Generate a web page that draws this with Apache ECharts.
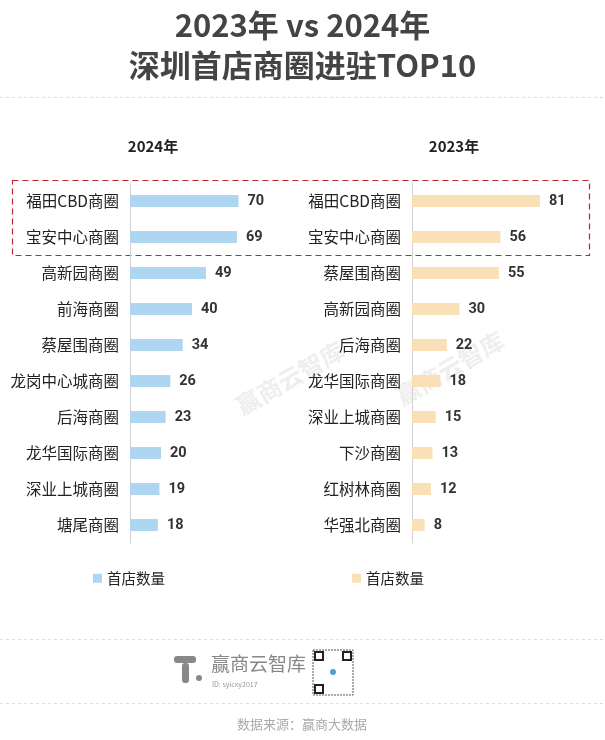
<!DOCTYPE html>
<html><head><meta charset="utf-8">
<script src="https://cdn.jsdelivr.net/npm/echarts@6/dist/echarts.min.js"></script>
<style>html,body{margin:0;padding:0;background:#fff}#c{width:605px;height:740px}</style>
</head><body><div id="c"></div>
<script>
const cats2024 = ['福田CBD商圈','宝安中心商圈','高新园商圈','前海商圈','蔡屋围商圈','龙岗中心城商圈','后海商圈','龙华国际商圈','深业上城商圈','塘尾商圈'];
const vals2024 = [70,69,49,40,34,26,23,20,19,18];
const cats2023 = ['福田CBD商圈','宝安中心商圈','蔡屋围商圈','高新园商圈','后海商圈','龙华国际商圈','深业上城商圈','下沙商圈','红树林商圈','华强北商圈'];
const vals2023 = [81,56,55,30,22,18,15,13,12,8];
const seriesName = '首店数量';
const font = '"Noto Sans CJK SC","Noto Sans",sans-serif';

const chart = echarts.init(document.getElementById('c'));
const yAxisCommon = {
  type:'category', inverse:true,
  axisLine:{show:true,lineStyle:{color:'#d0d0d0'}},
  axisTick:{show:false},
  axisLabel:{fontSize:15.5,color:'#222',fontFamily:font,margin:11}
};
const xAxisCommon = {type:'value',min:0,max:100,show:false,splitLine:{show:false}};
const labelCommon = {show:true,position:'right',distance:9,fontSize:14.5,color:'#333',fontWeight:'bold',fontFamily:'Roboto, sans-serif'};

chart.setOption({
  backgroundColor:'#fff',
  animation:false,
  title:[
    {text:'2023年 vs 2024年\n深圳首店商圈进驻TOP10',left:'center',top:0,
     textStyle:{fontSize:31,fontWeight:'bold',color:'#444',fontFamily:font,lineHeight:40}},
    {text:'2024年',left:148,top:134,textAlign:'center',textStyle:{fontSize:15,fontWeight:'bold',color:'#222',fontFamily:font}},
    {text:'2023年',left:449,top:134,textAlign:'center',textStyle:{fontSize:15,fontWeight:'bold',color:'#222',fontFamily:font}}
  ],
  grid:[
    {left:130,top:183,width:155,height:360},
    {left:412,top:183,width:158,height:360}
  ],
  xAxis:[Object.assign({gridIndex:0},xAxisCommon),Object.assign({gridIndex:1},xAxisCommon)],
  yAxis:[
    Object.assign({gridIndex:0,data:cats2024},yAxisCommon),
    Object.assign({gridIndex:1,data:cats2023},yAxisCommon)
  ],
  legend:[
    {data:[seriesName],left:88,top:566,itemWidth:9,itemHeight:9,icon:'rect',itemGap:6,
     textStyle:{fontSize:14.5,color:'#222',fontFamily:font}},
    {data:[{name:seriesName+' '}],left:347,top:566,itemWidth:9,itemHeight:9,icon:'rect',
     textStyle:{fontSize:14.5,color:'#222',fontFamily:font},formatter:()=>seriesName}
  ],
  series:[
    {name:seriesName,type:'bar',xAxisIndex:0,yAxisIndex:0,data:vals2024,barWidth:12,
     itemStyle:{color:'#aed6f1'},label:labelCommon},
    {name:seriesName+' ',type:'bar',xAxisIndex:1,yAxisIndex:1,data:vals2023,barWidth:12,
     itemStyle:{color:'#fae0b6'},label:labelCommon}
  ],
  graphic:[
    {type:'line',shape:{x1:0,y1:97.5,x2:605,y2:97.5},style:{stroke:'#ddd',lineDash:[3,3],lineWidth:1}},
    {type:'rect',shape:{x:12.5,y:180.5,width:577,height:75},style:{fill:'none',stroke:'#c4252b',lineDash:[6,4],lineWidth:1.2}},
    {type:'text',x:290,y:378,rotation:Math.PI/6,style:{text:'赢商云智库',fontSize:24,fontWeight:'bold',fill:'rgba(200,200,200,0.3)',align:'center',verticalAlign:'middle',fontFamily:font}},
    {type:'text',x:450,y:368,rotation:Math.PI/6,style:{text:'赢商云智库',fontSize:24,fontWeight:'bold',fill:'rgba(200,200,200,0.3)',align:'center',verticalAlign:'middle',fontFamily:font}},
    {type:'line',shape:{x1:0,y1:639.5,x2:605,y2:639.5},style:{stroke:'#ddd',lineDash:[3,3],lineWidth:1}},
    {type:'line',shape:{x1:0,y1:703.5,x2:605,y2:703.5},style:{stroke:'#ddd',lineDash:[3,3],lineWidth:1}},
    {type:'rect',shape:{x:174,y:656,width:22,height:7,r:3},style:{fill:'#888'}},
    {type:'rect',shape:{x:182,y:663,width:7,height:20,r:3},style:{fill:'#888'}},
    {type:'circle',shape:{cx:199,cy:678,r:3},style:{fill:'#888'}},
    {type:'text',x:211,y:664,style:{text:'赢商云智库',fontSize:19,fill:'#888',verticalAlign:'middle',fontFamily:font}},
    {type:'text',x:212,y:684,style:{text:'ID: syicxy2017',fontSize:7,fill:'#999',verticalAlign:'middle',fontFamily:font}},
    {type:'rect',shape:{x:313,y:650,width:40,height:45},style:{fill:'#fff',stroke:'#555',lineWidth:1,lineDash:[2,1]}},
    {type:'rect',shape:{x:315,y:652,width:8,height:8},style:{fill:'none',stroke:'#222',lineWidth:2}},
    {type:'rect',shape:{x:343,y:652,width:8,height:8},style:{fill:'none',stroke:'#222',lineWidth:2}},
    {type:'rect',shape:{x:315,y:685,width:8,height:8},style:{fill:'none',stroke:'#222',lineWidth:2}},
    {type:'circle',shape:{cx:333,cy:672,r:3},style:{fill:'#4aa3d8'}},
    {type:'text',x:302,y:724,style:{text:'数据来源：赢商大数据',fontSize:13,fill:'#aaa',align:'center',verticalAlign:'middle',fontFamily:font}}
  ]
});
</script></body></html>
